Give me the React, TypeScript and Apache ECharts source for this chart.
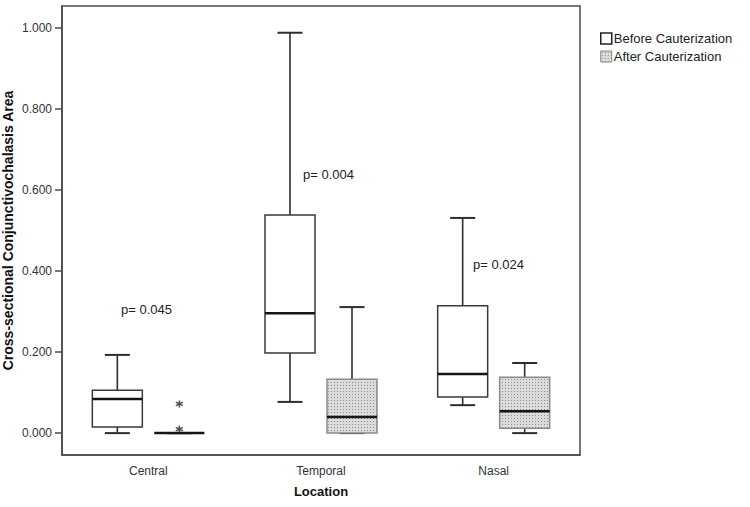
import React, { useEffect, useRef } from 'react';
import * as echarts from 'echarts';

const categories = ['Central', 'Temporal', 'Nasal'];
const seriesNames = ['Before Cauterization', 'After Cauterization'];
// each row: [min, Q1, median, Q3, max]
const beforeBoxes = [
  [0.0, 0.015, 0.084, 0.106, 0.193],
  [0.077, 0.198, 0.296, 0.538, 0.988],
  [0.069, 0.089, 0.146, 0.314, 0.531],
];
const afterBoxes = [
  [0.0, 0.0, 0.0, 0.0, 0.0],
  [0.0, 0.0, 0.04, 0.133, 0.311],
  [0.0, 0.012, 0.054, 0.138, 0.173],
];
// [category index, value]
const afterOutliers = [
  [0, 0.072],
  [0, 0.01],
];
const pValueLabels = ['p= 0.045', 'p= 0.004', 'p= 0.024'];
const yTicks = [0, 0.2, 0.4, 0.6, 0.8, 1.0];

const FONT = '"Liberation Sans", Arial, sans-serif';

const dotPattern = {
  image:
    "data:image/svg+xml;utf8," +
    encodeURIComponent(
      "<svg xmlns='http://www.w3.org/2000/svg' width='3' height='3'><rect width='3' height='3' fill='#dcdcdc'/><rect x='1' y='1' width='1' height='1' fill='#8a8a8a'/></svg>"
    ),
  imageWidth: 3,
  imageHeight: 3,
  repeat: 'repeat',
};

function makeRender(offset: number, fill: any, boxStroke: string) {
  return (params: any, api: any) => {
    const cat = api.value(0);
    const cx = api.coord([cat, 0])[0] + offset;
    const y = (i: number) => api.coord([cat, api.value(i)])[1];
    const yMin = y(1);
    const yQ1 = y(2);
    const yMed = y(3);
    const yQ3 = y(4);
    const yMax = y(5);
    const hw = 25;
    const cap = 12.5;
    const ln = { stroke: '#2e2e2e', lineWidth: 1.6 };
    return {
      type: 'group',
      children: [
        { type: 'line', shape: { x1: cx, y1: yMax, x2: cx, y2: yQ3 }, style: ln },
        { type: 'line', shape: { x1: cx, y1: yQ1, x2: cx, y2: yMin }, style: ln },
        { type: 'line', shape: { x1: cx - cap, y1: yMax, x2: cx + cap, y2: yMax }, style: { stroke: '#2e2e2e', lineWidth: 2 } },
        { type: 'line', shape: { x1: cx - cap, y1: yMin, x2: cx + cap, y2: yMin }, style: { stroke: '#2e2e2e', lineWidth: 2 } },
        {
          type: 'rect',
          shape: { x: cx - hw, y: yQ3, width: 2 * hw, height: yQ1 - yQ3 },
          style: { fill, stroke: boxStroke, lineWidth: 1.5 },
        },
        { type: 'line', shape: { x1: cx - hw, y1: yMed, x2: cx + hw, y2: yMed }, style: { stroke: '#151515', lineWidth: 2.5 } },
      ],
    };
  };
}

export default function App() {
  const ref = useRef<HTMLDivElement>(null);
  useEffect(() => {
    if (!ref.current) return;
    const chart = echarts.init(ref.current, null, { renderer: 'svg' });
    const option: any = {
      animation: false,
      backgroundColor: '#ffffff',
      textStyle: { fontFamily: FONT },
      grid: {
        left: 62,
        right: 170,
        top: 6,
        bottom: 52,
        containLabel: false,
        outerBoundsMode: 'none',
        show: true,
        borderColor: '#4a4a4a',
        borderWidth: 1.5,
        backgroundColor: 'transparent',
      },
      legend: {
        orient: 'vertical',
        left: 600,
        top: 32,
        padding: 0,
        itemWidth: 11,
        itemHeight: 11,
        itemGap: 5,
        selectedMode: false,
        textStyle: { fontSize: 13, color: '#222', fontFamily: FONT, padding: [0, 0, 0, -3] },
        data: [
          { name: seriesNames[0], icon: 'rect', itemStyle: { color: '#ffffff', borderColor: '#222', borderWidth: 1.5 } },
          { name: seriesNames[1], icon: 'rect', itemStyle: { color: dotPattern, borderColor: '#888', borderWidth: 1 } },
        ],
      },
      xAxis: {
        type: 'category',
        data: categories,
        boundaryGap: true,
        axisLine: { onZero: false, lineStyle: { color: '#4a4a4a', width: 1.5 } },
        axisTick: { alignWithLabel: true, length: 6, lineStyle: { color: '#4a4a4a', width: 1.5 } },
        axisLabel: { fontSize: 12, color: '#333', margin: 10, fontFamily: FONT },
        name: 'Location',
        nameLocation: 'middle',
        nameGap: 30,
        nameMoveOverlap: false,
        nameTextStyle: { fontSize: 13, fontWeight: 'bold', color: '#111', fontFamily: FONT },
        splitLine: { show: false },
      },
      yAxis: {
        type: 'value',
        min: -0.054,
        max: 1.054,
        axisLine: { show: true, onZero: false, lineStyle: { color: '#4a4a4a', width: 1.5 } },
        axisTick: { show: true, length: 7, customValues: yTicks, lineStyle: { color: '#4a4a4a', width: 1.5 } },
        axisLabel: {
          customValues: yTicks,
          fontSize: 12,
          color: '#333',
          margin: 10,
          fontFamily: FONT,
          formatter: (v: number) => v.toFixed(3),
        },
        splitLine: { show: false },
        name: 'Cross-sectional Conjunctivochalasis Area',
        nameLocation: 'middle',
        nameGap: 47,
        nameMoveOverlap: false,
        nameTextStyle: { fontSize: 14, fontWeight: 'bold', color: '#111', fontFamily: FONT },
      },
      graphic: [
        { type: 'text', x: 121, y: 309, style: { text: pValueLabels[0], font: `13px ${FONT}`, fill: '#222', verticalAlign: 'middle' } },
        { type: 'text', x: 303, y: 174, style: { text: pValueLabels[1], font: `13px ${FONT}`, fill: '#222', verticalAlign: 'middle' } },
        { type: 'text', x: 473, y: 264, style: { text: pValueLabels[2], font: `13px ${FONT}`, fill: '#222', verticalAlign: 'middle' } },
      ],
      series: [
        {
          name: seriesNames[0],
          type: 'custom',
          renderItem: makeRender(-31, '#ffffff', '#3a3a3a'),
          encode: { x: 0, y: [1, 2, 3, 4, 5] },
          data: beforeBoxes.map((b, i) => [i, ...b]),
          z: 3,
        },
        {
          name: seriesNames[1],
          type: 'custom',
          renderItem: makeRender(31, dotPattern, '#8a8a8a'),
          encode: { x: 0, y: [1, 2, 3, 4, 5] },
          data: afterBoxes.map((b, i) => [i, ...b]),
          z: 3,
        },
        {
          name: 'Outliers',
          type: 'scatter',
          data: afterOutliers,
          symbol: 'path://M0,-5L0,5M-4.3,-2.5L4.3,2.5M-4.3,2.5L4.3,-2.5',
          symbolSize: 7,
          symbolOffset: [31, 0],
          itemStyle: { color: 'transparent', borderColor: '#222', borderWidth: 1.5 },
          z: 4,
        },
      ],
    };
    chart.setOption(option);
    return () => chart.dispose();
  }, []);
  return <div ref={ref} style={{ position: 'fixed', left: 0, top: 0, width: 750, height: 507 }} />;
}
